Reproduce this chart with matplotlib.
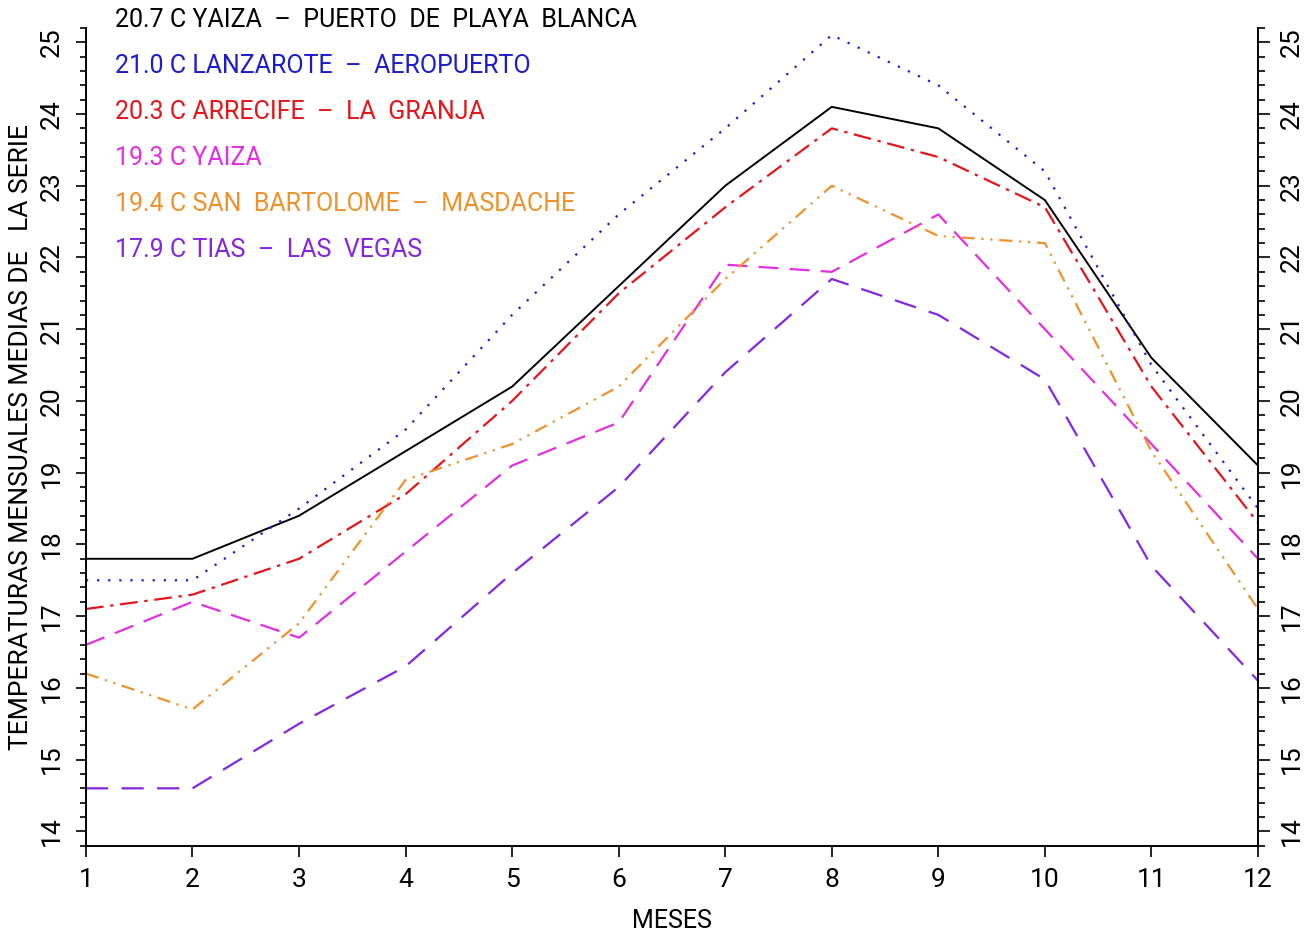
import matplotlib.pyplot as plt
from matplotlib.ticker import MultipleLocator

months = list(range(1, 13))

playa_blanca = [17.8, 17.8, 18.4, 19.3, 20.2, 21.6, 23.0, 24.1, 23.8, 22.8, 20.6, 19.1]
aeropuerto = [17.5, 17.5, 18.5, 19.6, 21.2, 22.6, 23.8, 25.1, 24.4, 23.2, 20.5, 18.5]
la_granja = [17.1, 17.3, 17.8, 18.7, 20.0, 21.5, 22.7, 23.8, 23.4, 22.7, 20.2, 18.3]
yaiza = [16.6, 17.2, 16.7, 17.9, 19.1, 19.7, 21.9, 21.8, 22.6, 21.0, 19.4, 17.8]
masdache = [16.2, 15.7, 16.9, 18.9, 19.4, 20.2, 21.7, 23.0, 22.3, 22.2, 19.3, 17.1]
las_vegas = [14.6, 14.6, 15.5, 16.3, 17.6, 18.8, 20.4, 21.7, 21.2, 20.3, 17.7, 16.1]

labels = [
    "20.7 C YAIZA  \u2013  PUERTO  DE  PLAYA  BLANCA",
    "21.0 C LANZAROTE  \u2013  AEROPUERTO",
    "20.3 C ARRECIFE  \u2013  LA  GRANJA",
    "19.3 C YAIZA",
    "19.4 C SAN  BARTOLOME  \u2013  MASDACHE",
    "17.9 C TIAS  \u2013  LAS  VEGAS",
]
series = [playa_blanca, aeropuerto, la_granja, yaiza, masdache, las_vegas]
colors = ["black", "#1c1ccf", "#e3161b", "#e22fe0", "#ef922c", "#8526e0"]
dashes = [
    None,
    (1, 4),
    (8, 3, 1.5, 3),
    (9, 5),
    (6, 3, 1, 3, 1, 3),
    (10, 6),
]

plt.rcParams["font.family"] = ["Roboto", "DejaVu Sans"]

fig = plt.figure(figsize=(13.1, 9.31), dpi=100)
ax = fig.add_axes([0.0656, 0.0916, 0.8947, 0.8784])

for vals, col, ds in zip(series, colors, dashes):
    if ds is None:
        ax.plot(months, vals, color=col, lw=1.4)
    else:
        ax.plot(months, vals, color=col, lw=1.6, dashes=ds)

ax.set_xlim(1, 12)
ax.set_ylim(13.8, 25.2)
ax.set_xticks(months)

# right-hand axis copy so its labels can sit at their own distance
ax2 = ax.twinx()
ax2.set_ylim(13.8, 25.2)

for a in (ax, ax2):
    a.yaxis.set_major_locator(MultipleLocator(1))
    a.yaxis.set_minor_locator(MultipleLocator(0.2))
    a.spines["top"].set_visible(False)
    for s in ["left", "right", "bottom"]:
        a.spines[s].set_linewidth(1.2)

ax.tick_params(axis="x", direction="out", length=8, width=1.2, labelsize=19, pad=8)
ax.tick_params(axis="y", which="major", direction="out", length=7, width=1.2,
               labelsize=19, labelrotation=90, pad=9)
ax.tick_params(axis="y", which="minor", direction="out", length=4.5, width=1.2)
ax2.tick_params(axis="y", which="major", direction="out", length=8.5, width=1.2,
                labelsize=19, labelrotation=90, pad=7)
ax2.tick_params(axis="y", which="minor", direction="out", length=5, width=1.2)
for lab in ax.get_yticklabels() + ax2.get_yticklabels():
    lab.set_verticalalignment("center")

ax.set_xlabel("MESES", fontsize=18)
ax.xaxis.set_label_coords(0.5, -0.077)
ax.set_ylabel("TEMPERATURAS MENSUALES MEDIAS DE   LA SERIE", fontsize=19)
ax.yaxis.set_label_coords(-0.045, 0.5)

ys = [20, 66, 112, 158, 204, 250]
for txt, col, yp in zip(labels, colors, ys):
    fig.text(115 / 1310, 1 - yp / 931, txt, color=col, fontsize=18, va="center")

fig.savefig("out.png", dpi=100)
